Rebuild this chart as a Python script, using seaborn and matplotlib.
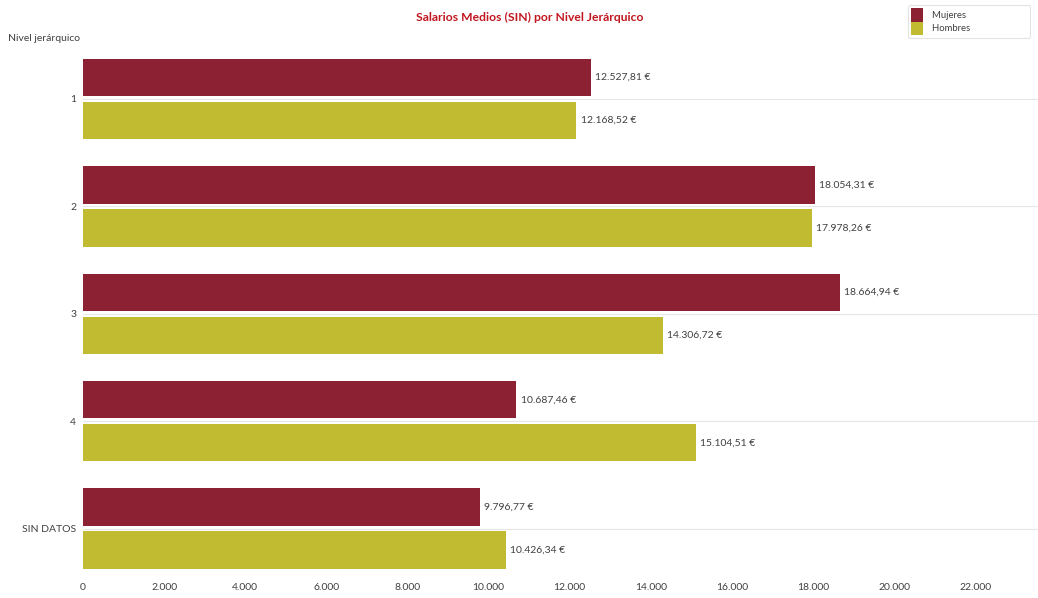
import matplotlib
matplotlib.use('Agg')
import matplotlib.pyplot as plt
import matplotlib.ticker as mticker
import seaborn as sns
import pandas as pd

niveles = ["1", "2", "3", "4", "SIN DATOS"]
mujeres = [12527.81, 18054.31, 18664.94, 10687.46, 9796.77]
hombres = [12168.52, 17978.26, 14306.72, 15104.51, 10426.34]
series = ["Mujeres", "Hombres"]
colores = ["#8B2133", "#C1BB32"]
x_ticks = [0, 2000, 4000, 6000, 8000, 10000, 12000, 14000, 16000, 18000, 20000, 22000]

sns.set_theme(style="white")
plt.rcParams['font.family'] = ['Lato', 'DejaVu Sans']

df = pd.DataFrame({
    "nivel": niveles * 2,
    "salario": mujeres + hombres,
    "sexo": [series[0]] * len(niveles) + [series[1]] * len(niveles),
})


def euro(v):
    s = f"{v:,.2f}"
    s = s.replace(",", "X").replace(".", ",").replace("X", ".")
    return s + " €"


fig = plt.figure(figsize=(10.38, 5.98), dpi=100)
ax = fig.add_axes([0.08, 0.035, 0.92, 0.8896])

for i in range(len(niveles)):
    ax.axhline(i, color="#e6e6e6", linewidth=0.8, zorder=0)

sns.barplot(data=df, x="salario", y="nivel", hue="sexo", order=niveles,
            hue_order=series, palette=colores, saturation=1, orient="h",
            width=0.8, gap=0.128, edgecolor="none", ax=ax, zorder=2)

for cont in ax.containers:
    ax.bar_label(cont, labels=[euro(b.get_width()) for b in cont],
                 padding=3, fontsize=7.5, color="#404040")

ax.set_xlim(0, 23550)
ax.set_ylim(4.45, -0.5)
ax.set_xticks(x_ticks)
ax.xaxis.set_major_formatter(mticker.FuncFormatter(lambda v, p: f"{int(v):,}".replace(",", ".")))
ax.tick_params(axis="both", labelsize=7.5, colors="#404040", length=0, pad=4)
ax.tick_params(axis="y", pad=5)
for s in ax.spines.values():
    s.set_visible(False)
ax.set_xlabel("")
ax.set_ylabel("")

fig.text(0.008, 0.935, "Nivel jerárquico", fontsize=7.5, color="#404040", va="center")
fig.text(0.51, 0.97, "Salarios Medios (SIN) por Nivel Jerárquico", fontsize=8.7,
         fontweight="bold", color="#C0161E", ha="center", va="center")

handles, labels = ax.get_legend_handles_labels()
leg = ax.legend(handles, [l + " " * 24 for l in labels], loc="upper right",
                fontsize=6.8, frameon=True, handlelength=1.3, handleheight=1.85,
                handletextpad=1.0, labelspacing=0.0, borderpad=0.3,
                borderaxespad=0)
leg.set_bbox_to_anchor((0.9925, 0.9916), transform=fig.transFigure)
leg.get_frame().set_edgecolor("#dddddd")
leg.get_frame().set_linewidth(0.8)
for t in leg.get_texts():
    t.set_color("#404040")

fig.savefig("out.png", dpi=100)
